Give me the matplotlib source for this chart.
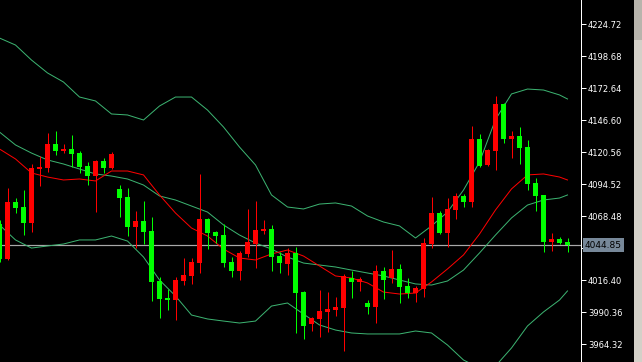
import matplotlib
matplotlib.use("Agg")
import matplotlib.pyplot as plt
from matplotlib.patches import Rectangle
import matplotlib.transforms as mtransforms

# ---------------- data ----------------
opens = [4062.0, 4033.5, 4079.9, 4075.8, 4062.8, 4106.7, 4107.5, 4127.1, 4121.4, 4123.0,
         4119.7, 4109.2, 4101.0, 4113.2, 4107.5, 4090.5, 4083.9, 4059.5, 4064.4, 4056.3,
         4015.6, 4001.8, 4000.1, 4015.6, 4019.7, 4030.2, 4066.0, 4055.5, 4053.0, 4031.1,
         4023.7, 4037.6, 4045.7, 4056.3, 4057.9, 4035.9, 4029.4, 4038.4, 4006.6, 3980.6,
         3984.7, 3990.4, 3992.0, 3993.6, 4018.0, 4014.8, 3997.7, 3994.4, 4023.7, 4018.0,
         4025.4, 4011.5, 4005.8, 4009.1, 4045.7, 4070.9, 4054.7, 4073.4, 4084.8, 4079.9,
         4131.1, 4110.0, 4121.4, 4159.6, 4131.1, 4133.6, 4124.6, 4095.3, 4085.6, 4047.3,
         4049.8, 4047.3]
highs = [4065.2, 4091.3, 4083.1, 4089.6, 4110.8, 4117.3, 4136.0, 4137.7, 4127.1, 4134.4,
         4121.4, 4112.4, 4113.9, 4115.7, 4120.6, 4093.7, 4091.3, 4072.6, 4080.7, 4067.7,
         4018.8, 4009.1, 4018.8, 4034.3, 4034.3, 4102.7, 4066.8, 4056.3, 4062.0, 4035.1,
         4040.0, 4074.2, 4080.7, 4065.2, 4061.2, 4039.2, 4042.4, 4043.3, 4007.5, 3986.3,
         4008.3, 4006.6, 4002.6, 4021.3, 4023.7, 4018.8, 4000.1, 4028.6, 4027.0, 4040.8,
         4029.4, 4018.0, 4011.5, 4050.6, 4083.9, 4072.6, 4083.1, 4087.2, 4086.4, 4141.7,
         4135.2, 4123.0, 4166.1, 4160.5, 4137.7, 4140.9, 4130.3, 4099.4, 4085.6, 4054.7,
         4051.4, 4050.6]
lows = [4031.1, 4032.7, 4070.9, 4053.0, 4055.5, 4092.9, 4104.3, 4118.1, 4119.7, 4108.4,
        4103.5, 4093.7, 4071.7, 4103.5, 4107.0, 4067.7, 4052.2, 4042.4, 4045.7, 3999.3,
        3985.5, 3992.0, 3983.9, 4012.3, 4013.2, 4022.1, 4041.6, 4046.5, 4027.0, 4018.8,
        4016.4, 4035.1, 4026.2, 4053.8, 4023.7, 4022.1, 4020.5, 3973.3, 3968.4, 3974.9,
        3970.0, 3974.1, 3987.1, 3958.6, 4001.8, 4007.5, 3988.7, 3981.4, 4000.9, 4014.0,
        3997.7, 4001.8, 3998.5, 4002.6, 4042.4, 4053.8, 4043.3, 4066.0, 4075.8, 4075.8,
        4108.4, 4109.2, 4105.9, 4127.9, 4115.7, 4110.8, 4089.6, 4072.6, 4039.2, 4040.0,
        4045.7, 4039.2]
closes = [4033.5, 4080.1, 4075.2, 4062.8, 4107.5, 4108.4, 4127.1, 4121.4, 4123.0, 4118.9,
          4108.4, 4101.0, 4113.2, 4107.5, 4118.9, 4083.1, 4059.5, 4064.4, 4055.5, 4014.8,
          4000.9, 4000.1, 4016.4, 4020.5, 4031.1, 4066.0, 4054.7, 4052.2, 4030.2, 4023.7,
          4038.4, 4047.3, 4057.1, 4057.9, 4035.1, 4030.2, 4038.4, 4005.8, 3979.0, 3985.5,
          3991.2, 3992.8, 3994.4, 4019.7, 4014.8, 4017.2, 3994.4, 4023.7, 4016.4, 4025.4,
          4010.7, 4005.8, 4009.9, 4046.5, 4070.9, 4054.7, 4074.2, 4084.8, 4079.9, 4131.1,
          4109.2, 4122.2, 4159.6, 4131.1, 4133.6, 4123.8, 4094.5, 4084.8, 4047.3, 4049.8,
          4046.5, 4044.85]

band_idx = list(range(0, 72, 2)) + [71]
upper_band = [4213.3, 4207.6, 4195.4, 4184.9, 4177.5, 4165.3, 4162.1, 4151.5, 4150.7, 4146.6,
              4158.0, 4165.3, 4165.3, 4154.7, 4140.9, 4124.6, 4110.0, 4085.6, 4075.8, 4074.2,
              4078.2, 4079.1, 4076.6, 4068.5, 4063.6, 4060.4, 4050.6, 4060.4, 4071.7, 4089.6,
              4112.4, 4147.0, 4167.8, 4171.8, 4171.0, 4167.0, 4163.7]
middle_band = [4136.8, 4126.3, 4119.7, 4114.1, 4110.8, 4106.7, 4102.7, 4101.0, 4098.6, 4093.7,
               4084.8, 4081.5, 4076.6, 4071.7, 4061.2, 4053.0, 4046.5, 4041.6, 4035.1, 4030.2,
               4028.6, 4027.0, 4024.5, 4022.1, 4019.7, 4016.4, 4013.2, 4012.3, 4015.6, 4024.5,
               4038.4, 4053.0, 4066.9, 4077.4, 4081.5, 4083.1, 4085.6]
lower_band = [4061.2, 4049.0, 4042.4, 4044.1, 4045.7, 4049.0, 4049.0, 4052.2, 4048.1, 4035.1,
              4016.4, 4003.4, 3987.9, 3984.7, 3983.0, 3981.4, 3983.0, 3995.2, 3997.7, 3988.7,
              3979.8, 3975.7, 3973.3, 3972.5, 3972.5, 3972.5, 3974.9, 3973.3, 3963.5, 3951.3,
              3944.8, 3946.4, 3961.1, 3979.0, 3990.4, 4000.1, 4007.5]
red_ma = [4123.0, 4114.9, 4103.5, 4100.2, 4097.8, 4098.6, 4097.0, 4105.1, 4105.1, 4101.9,
          4085.6, 4070.9, 4058.7, 4052.2, 4041.6, 4034.3, 4032.7, 4037.6, 4040.8, 4035.9,
          4027.8, 4019.7, 4018.0, 4014.0, 4006.6, 4005.0, 4005.8, 4014.8, 4025.4, 4036.8,
          4053.8, 4073.4, 4090.5, 4101.9, 4102.7, 4100.2, 4097.8]

y_ticks = [4224.72, 4198.68, 4172.64, 4146.60, 4120.56, 4094.52, 4068.48, 4042.44,
           4016.40, 3990.36, 3964.32]
last_price = 4044.85

# ---------------- drawing ----------------
W, H = 642, 362
fig = plt.figure(figsize=(W / 100, H / 100), dpi=100, facecolor="black")
ax = fig.add_axes([0, 0, 581 / W, 1])
ax.set_facecolor("black")

px = 72 / 100  # one pixel in points
RED = "#ff0000"
GREEN = "#00ff00"
BAND = "#3cb371"

n = len(opens)
xs = list(range(n))
# bands and MA
ax.plot(band_idx, upper_band, color=BAND, lw=1.0 * px, zorder=2)
ax.plot(band_idx, middle_band, color=BAND, lw=1.0 * px, zorder=2)
ax.plot(band_idx, lower_band, color=BAND, lw=1.0 * px, zorder=2)
ax.plot(band_idx, red_ma, color=RED, lw=1.0 * px, zorder=2)

# price line
ax.axhline(last_price, color="#a8a8a8", lw=1.2 * px, zorder=1)

# candles
for i in xs:
    o, h, l, c = opens[i], highs[i], lows[i], closes[i]
    col = RED if c >= o else GREEN
    ax.vlines(i, l, h, colors=col, lw=1.0 * px, zorder=3)
    bottom = min(o, c)
    height = max(abs(c - o), 1.0)
    ax.bar(i, height, bottom=bottom, width=0.625, color=col, linewidth=0, zorder=4)

ax.set_xlim((0 + 0.5) / 8, (581 + 0.5) / 8)
ax.set_ylim(3949.68, 4244.25)

# axis styling
for s in ["top", "bottom", "left"]:
    ax.spines[s].set_visible(False)
ax.spines["right"].set_color("white")
ax.spines["right"].set_linewidth(1.0 * px)
ax.set_xticks([])
ax.yaxis.tick_right()
ax.set_yticks(y_ticks)
# the 4042.44 label sits hidden behind the last-price box in the reference
ax.set_yticklabels(["" if abs(v - 4042.44) < 0.01 else f"{v:.2f}" for v in y_ticks])
ax.tick_params(axis="y", colors="white", direction="out", length=3.5,
               width=1.0 * px, pad=1.5, labelsize=6)

# last price label box
trans = mtransforms.blended_transform_factory(fig.transFigure, ax.transData)
ax.text(585 / W, last_price, f"{last_price:.2f}", transform=trans, fontsize=6.5,
        color="black", va="center", ha="left", zorder=10, clip_on=False,
        bbox=dict(boxstyle="square,pad=0.25", facecolor="#778899", edgecolor="none"))

# right strip
fig.patches.append(Rectangle((634 / W, 0), 8 / W, 1, transform=fig.transFigure,
                             facecolor="#d4d0c8", edgecolor="none"))
fig.patches.append(Rectangle((634 / W, 1 - 40 / H), 8 / W, 40 / H, transform=fig.transFigure,
                             facecolor="#b8b4ac", edgecolor="none"))

fig.savefig("out.png", dpi=100, facecolor="black")
